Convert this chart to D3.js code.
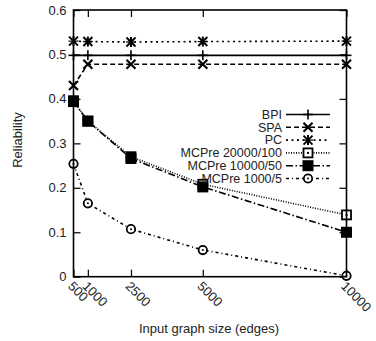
<!DOCTYPE html>
<html><head><meta charset="utf-8">
<script src="https://cdn.jsdelivr.net/npm/d3@7"></script>
<style>body{margin:0;background:#fff}svg{display:block}text{font-family:"Liberation Sans",Arial,sans-serif;fill:#222}</style>
</head><body><svg id="c" width="376" height="341"></svg>
<script>
const sizes = [500, 1000, 2500, 5000, 10000];
const xTickLabels = ["500", "1000", "2500", "5000", "10000"];
const yTicks = [0, 0.1, 0.2, 0.3, 0.4, 0.5, 0.6];
const seriesNames = ["BPI", "SPA", "PC", "MCPre 20000/100", "MCPre 10000/50", "MCPre 1000/5"];
const bpi = [0.498, 0.498, 0.498, 0.498, 0.498];
const spa = [0.430, 0.478, 0.478, 0.478, 0.478];
const pc = [0.530, 0.529, 0.528, 0.529, 0.530];
const mc20000 = [0.396, 0.350, 0.270, 0.208, 0.139];
const mc10000 = [0.394, 0.350, 0.266, 0.202, 0.100];
const mc1000 = [0.254, 0.165, 0.107, 0.060, 0.002];

const svg = d3.select("#c");
const L = 73.5, R = 346.5, T = 10, B = 276.7;
const x = d3.scaleLinear().domain([500, 10000]).range([L, R]);
const y = d3.scaleLinear().domain([0, 0.6]).range([B, T]);

const styles = [
  {dash: null, m: "plus"},
  {dash: "5,3", m: "x"},
  {dash: "2,3.5", m: "star"},
  {dash: "1,1.5", m: "osq"},
  {dash: "7,2.5,1.5,2.5", m: "fsq"},
  {dash: "3,3,1,3", m: "circ"}
];
const data = [bpi, spa, pc, mc20000, mc10000, mc1000];

const g = svg.append("g");
g.append("g").attr("transform", `translate(0,${B})`)
  .call(d3.axisBottom(x).tickValues(sizes).tickSize(-7).tickFormat(""))
  .call(a => { a.select(".domain").remove(); });
g.append("g").attr("transform", `translate(0,${T})`)
  .call(d3.axisTop(x).tickValues(sizes).tickSize(-7).tickFormat(""))
  .call(a => { a.select(".domain").remove(); });
g.append("g").attr("transform", `translate(${L},0)`)
  .call(d3.axisLeft(y).tickValues(yTicks).tickSize(-7).tickFormat(""))
  .call(a => { a.select(".domain").remove(); });
g.append("g").attr("transform", `translate(${R},0)`)
  .call(d3.axisRight(y).tickValues(yTicks).tickSize(-7).tickFormat(""))
  .call(a => { a.select(".domain").remove(); });
g.selectAll(".tick line").attr("stroke", "#111").attr("stroke-width", 1.3);

svg.selectAll(".ylab").data(yTicks).join("text")
  .attr("x", L - 7).attr("y", d => y(d)).attr("dy", "0.35em")
  .attr("text-anchor", "end").attr("font-size", 13).text(d => d === 0 ? "0" : d.toFixed(1));
svg.selectAll(".xlab").data(sizes).join("text")
  .attr("transform", (d) => `translate(${x(d) - 3},${B + 7}) rotate(45)`)
  .attr("dy", "0.35em").attr("font-size", 13)
  .text((d, i) => xTickLabels[i]);

svg.append("text").attr("transform", `translate(22,140) rotate(-90)`)
  .attr("text-anchor", "middle").attr("font-size", 13).text("Reliability");
svg.append("text").attr("x", 209).attr("y", 333)
  .attr("text-anchor", "middle").attr("font-size", 13).text("Input graph size (edges)");

const line = d3.line().x((d, i) => x(sizes[i])).y(d => y(d));
data.forEach((vals, k) => {
  svg.append("path").attr("d", line(vals)).attr("fill", "none")
    .attr("stroke", "#000").attr("stroke-width", 1.6)
    .attr("stroke-dasharray", styles[k].dash);
});

function marker(sel, type, cx, cy) {
  const gg = sel.append("g").attr("transform", `translate(${cx},${cy})`);
  const ln = (x1, y1, x2, y2, w) => gg.append("line").attr("x1", x1).attr("y1", y1).attr("x2", x2).attr("y2", y2)
    .attr("stroke", "#000").attr("stroke-width", w || 1.6);
  if (type === "plus") { ln(-5, 0, 5, 0); ln(0, -5, 0, 5); }
  else if (type === "x") { ln(-4.5, -4.5, 4.5, 4.5, 2.2); ln(-4.5, 4.5, 4.5, -4.5, 2.2); }
  else if (type === "star") { ln(-4.5, -4.5, 4.5, 4.5, 2); ln(-4.5, 4.5, 4.5, -4.5, 2); ln(0, -5, 0, 5, 2); ln(-5, 0, 5, 0, 1.2); }
  else if (type === "osq") { gg.append("rect").attr("x", -4.5).attr("y", -4.5).attr("width", 9).attr("height", 9).attr("fill", "#fff").attr("stroke", "#000").attr("stroke-width", 1.8); gg.append("rect").attr("x", -1).attr("y", -1).attr("width", 2).attr("height", 2).attr("fill", "#000"); }
  else if (type === "fsq") { gg.append("rect").attr("x", -5.5).attr("y", -5.5).attr("width", 11).attr("height", 11).attr("fill", "#000"); }
  else if (type === "circ") { gg.append("circle").attr("r", 4.2).attr("fill", "#fff").attr("stroke", "#000").attr("stroke-width", 1.8); gg.append("circle").attr("r", 1).attr("fill", "#000"); }
}
data.forEach((vals, k) => {
  vals.forEach((v, i) => marker(svg, styles[k].m, x(sizes[i]), y(v)));
});

svg.append("rect").attr("x", L).attr("y", T).attr("width", R - L).attr("height", B - T)
  .attr("fill", "none").attr("stroke", "#000").attr("stroke-width", 1.6);

const legY0 = 114.5, legDy = 12.8, legTextX = 282, legX1 = 286, legX2 = 330;
seriesNames.forEach((name, k) => {
  const yy = legY0 + k * legDy;
  svg.append("text").attr("x", legTextX).attr("y", yy).attr("dy", "0.35em")
    .attr("text-anchor", "end").attr("font-size", 12.5).text(name);
  svg.append("line").attr("x1", legX1).attr("x2", legX2).attr("y1", yy).attr("y2", yy)
    .attr("stroke", "#000").attr("stroke-width", 1.6).attr("stroke-dasharray", styles[k].dash);
  marker(svg, styles[k].m, (legX1 + legX2) / 2, yy);
});
</script></body></html>
